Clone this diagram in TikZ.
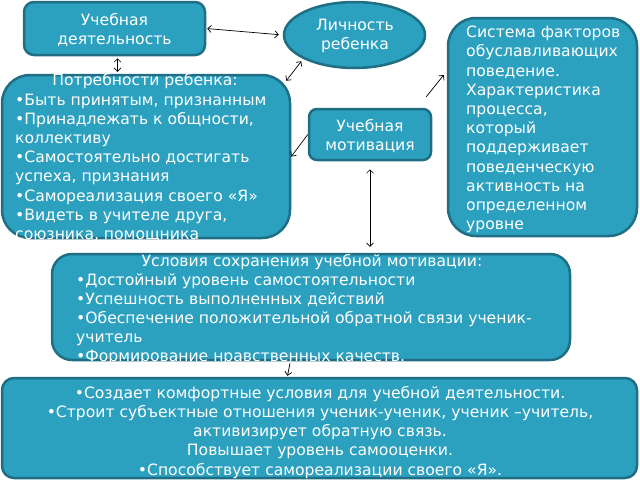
\documentclass[tikz,border=0pt]{standalone}
\usepackage{fontspec}
\setmainfont{DejaVu Sans}
\usetikzlibrary{arrows.meta,shapes.geometric,calc}
\definecolor{boxfill}{RGB}{44,160,191}
\definecolor{boxline}{RGB}{31,110,132}
\begin{document}
\begin{tikzpicture}[x=1pt,y=-1pt,
  box/.style={draw=boxline,fill=boxfill,line width=2.5pt,inner sep=0pt},
  txt/.style={text=white,font=\fontsize{15.6}{19.2}\selectfont,inner sep=0pt},
  conn/.style={black,line width=0.7pt,{Straight Barb[length=3.5pt,width=7pt]}-{Straight Barb[length=3.5pt,width=7pt]}},
  conn1/.style={black,line width=0.7pt,-{Straight Barb[length=3.5pt,width=7pt]}}]
\useasboundingbox (0,0) rectangle (640,480);
% boxes
\node[box,rounded corners=10pt,minimum width=181pt,minimum height=53pt] (ud) at (114.5,28.5) {};
\node[box,ellipse,minimum width=141pt,minimum height=66pt] (lr) at (354.5,35) {};
\node[box,rounded corners=28pt,minimum width=288pt,minimum height=163pt] (potr) at (146,156.5) {};
\node[box,rounded corners=8pt,minimum width=122pt,minimum height=51pt] (um) at (370,134.5) {};
\node[box,rounded corners=28pt,minimum width=189pt,minimum height=218pt] (sys) at (542.5,127) {};
\node[box,rounded corners=20pt,minimum width=518pt,minimum height=106pt] (usl) at (311,307) {};
\node[box,rounded corners=12pt,minimum width=635pt,minimum height=100pt] (bot) at (319.5,428) {};
% texts
\node[txt,align=center] (tud) at (114.5,30) {Учебная\\деятельность};
\node[txt,align=center] (tlr) at (355,36) {Личность\\ребенка};
\node[txt,align=center] (tum) at (370,136) {Учебная\\мотивация};
\node[txt,align=left,anchor=north west] (tsys) at (466,26) {Система факторов\\обуславливающих\\поведение.\\Характеристика\\процесса,\\который\\поддерживает\\поведенческую\\активность на\\определенном\\уровне};
\node[txt] (tpt) at (145,81) {Потребности ребенка:};
\node[txt,align=left,anchor=north west] (tpb) at (15,93.5) {•Быть принятым, признанным\\•Принадлежать к общности,\\коллективу\\•Самостоятельно достигать\\успеха, признания\\•Самореализация своего «Я»\\•Видеть в учителе друга,\\союзника, помощника};
\node[txt] (tut) at (312,262) {Условия сохранения учебной мотивации:};
\node[txt,align=left,anchor=north west] (tub) at (76,273) {•Достойный уровень самостоятельности\\•Успешность выполненных действий\\•Обеспечение положительной обратной связи ученик-\\учитель\\•Формирование нравственных качеств.};
\node[txt,align=center,anchor=north] (tbot) at (320,386) {•Создает комфортные условия для учебной деятельности.\\•Строит субъектные отношения ученик-ученик, ученик –учитель,\\активизирует обратную связь.\\Повышает уровень самооценки.\\•Способствует самореализации своего «Я».};
% connectors
\draw[conn,shorten <=1pt,shorten >=4pt] (ud.east) -- (lr.west);
\draw[conn,shorten <=2pt,shorten >=2pt] ([xshift=3pt]ud.south) -- ([xshift=3pt]ud.south |- potr.north);
\coordinate (p1) at ($(potr.north east)+(-5,7)$);
\draw[conn,shorten >=3pt] (p1) -- (lr.205);
\draw[conn1] (um.west) -- (potr.east);
\coordinate (m1) at ($(um.north east)+(-6,-11)$);
\coordinate (s1) at ($(sys.west)+(-3,-52)$);
\draw[conn1] (m1) -- (s1);
\draw[conn,shorten <=8pt,shorten >=6pt] (um.south) -- (um.south |- usl.north);
\coordinate (u1) at ($(usl.south)+(-21,2)$);
\coordinate (b1) at ($(bot.north)+(-32,-1)$);
\draw[conn1] (u1) -- (b1);
\end{tikzpicture}
\end{document}
